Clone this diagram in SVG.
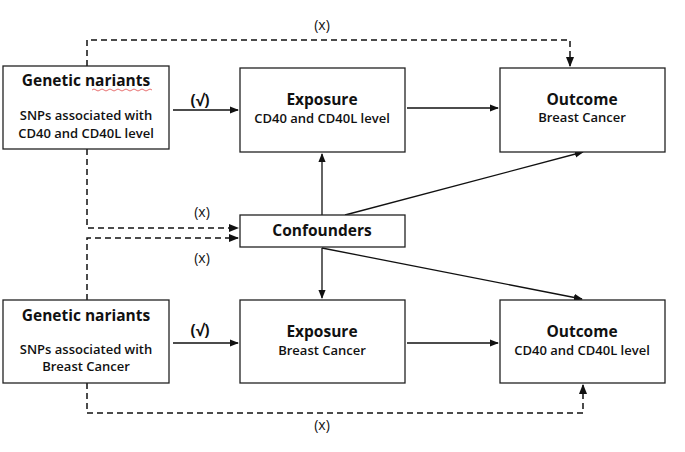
<svg xmlns="http://www.w3.org/2000/svg" width="685" height="452" viewBox="0 0 685 452">
<style>
.b{fill:#fff;stroke:#222;stroke-width:1.3}
.t{font-family:"Open Sans","DejaVu Sans",sans-serif;fill:#111;text-anchor:middle}
.h{font-size:15.5px;font-weight:bold}
.s{font-size:13px;font-weight:600}
.l{font-size:14px}
.c{fill:none;stroke:#111;stroke-width:1.3}
.d{stroke-dasharray:6,4;stroke-width:1.5}
</style>
<defs><marker id="a" viewBox="0 0 10 10" refX="9" refY="5" markerWidth="7" markerHeight="7" orient="auto"><path d="M0,1L10,5L0,9z" fill="#111"/></marker></defs>
<rect width="685" height="452" fill="#fff"/>
<g id="connectors">
<path class="c d" d="M87,66V40H570V66" marker-end="url(#a)"/>
<path class="c d" d="M87,149V228H238" marker-end="url(#a)"/>
<path class="c d" d="M87,300V238H238" marker-end="url(#a)"/>
<path class="c d" d="M87,383V413H583V385" marker-end="url(#a)"/>
<path class="c" d="M173,110H238" marker-end="url(#a)"/>
<path class="c" d="M407,108H498" marker-end="url(#a)"/>
<path class="c" d="M322,215V154" marker-end="url(#a)"/>
<path class="c" d="M345,215L583,152" marker-end="url(#a)"/>
<path class="c" d="M322,248V298" marker-end="url(#a)"/>
<path class="c" d="M322,248L582,299" marker-end="url(#a)"/>
<path class="c" d="M173,343H238" marker-end="url(#a)"/>
<path class="c" d="M407,343H498" marker-end="url(#a)"/>
<text class="t l" x="322" y="30">(x)</text>
<text class="t l" x="202" y="217">(x)</text>
<text class="t l" x="202" y="263">(x)</text>
<text class="t l" x="322" y="430">(x)</text>
<text class="t h" x="200" y="106">(√)</text>
<text class="t h" x="200" y="336">(√)</text>
</g>
<g id="genetic1"><rect class="b" x="3" y="66" width="166" height="83"/>
<text class="t h" x="86" y="86">Genetic nariants</text>
<path d="M92,90q2,-2 4,0t4,0t4,0t4,0t4,0t4,0t4,0t4,0t4,0t4,0t4,0t4,0t4,0t4,0t4,0" fill="none" stroke="#d33" stroke-width="0.7"/>
<text class="t s" x="86" y="120">SNPs associated with</text>
<text class="t s" x="86" y="138">CD40 and CD40L level</text></g>
<g id="exposure1"><rect class="b" x="240" y="68" width="165" height="84"/>
<text class="t h" x="322" y="105">Exposure</text>
<text class="t s" x="322" y="123">CD40 and CD40L level</text></g>
<g id="outcome1"><rect class="b" x="500" y="68" width="165" height="84"/>
<text class="t h" x="582" y="105">Outcome</text>
<text class="t s" x="582" y="122">Breast Cancer</text></g>
<g id="confounders"><rect class="b" x="240" y="215" width="165" height="32"/>
<text class="t h" x="322" y="236">Confounders</text></g>
<g id="genetic2"><rect class="b" x="3" y="300" width="166" height="83"/>
<text class="t h" x="86" y="321">Genetic nariants</text>
<text class="t s" x="86" y="354">SNPs associated with</text>
<text class="t s" x="86" y="371">Breast Cancer</text></g>
<g id="exposure2"><rect class="b" x="240" y="300" width="165" height="83"/>
<text class="t h" x="322" y="337">Exposure</text>
<text class="t s" x="322" y="355">Breast Cancer</text></g>
<g id="outcome2"><rect class="b" x="500" y="300" width="165" height="83"/>
<text class="t h" x="582" y="337">Outcome</text>
<text class="t s" x="582" y="355">CD40 and CD40L level</text></g>
</svg>
